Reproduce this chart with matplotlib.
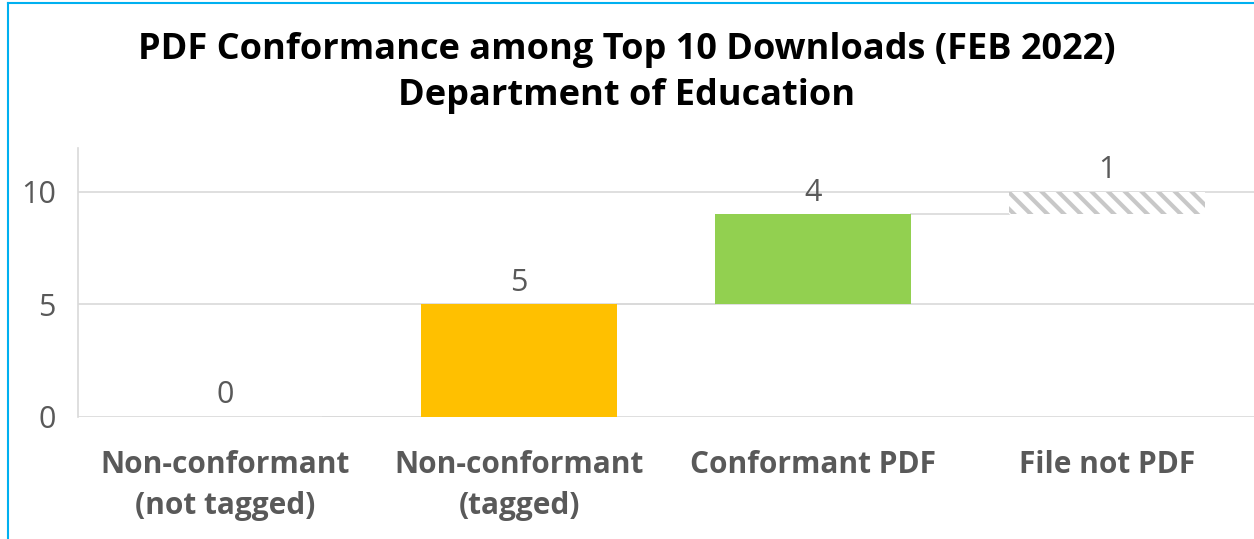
import matplotlib
matplotlib.use("Agg")
import matplotlib.pyplot as plt
from matplotlib.lines import Line2D

categories = ["Non-conformant\n(not tagged)", "Non-conformant\n(tagged)", "Conformant PDF", "File not PDF"]
values = [0, 5, 4, 1]
colors = ["#4472C4", "#FFC000", "#92D050", "white"]

# waterfall bases
bases = []
run = 0
for v in values:
    bases.append(run)
    run += v

plt.rcParams['font.family'] = ['Open Sans', 'DejaVu Sans']
plt.rcParams['hatch.linewidth'] = 3.0

fig = plt.figure(figsize=(12.54, 5.39), dpi=100)
ax = fig.add_axes([78 / 1254, 1 - 417 / 539, 1 - 78 / 1254, (417 - 148) / 539])

x = list(range(len(categories)))
for i in x:
    if i == 3:
        ax.bar(i, values[i], bottom=bases[i], width=0.665, color="white",
               edgecolor="#C8C8C8", linewidth=0, hatch="\\\\", zorder=3)
    else:
        ax.bar(i, values[i], bottom=bases[i], width=0.665, color=colors[i], zorder=3)
    ax.text(i, bases[i] + values[i] + 0.3, str(values[i]), ha="center", va="bottom",
            fontsize=22, color="#595959")

# connector lines
for i in range(len(values) - 1):
    top = bases[i] + values[i]
    ax.plot([i + 0.3325, i + 1 - 0.3325], [top, top], color="#D9D9D9", lw=1.2, zorder=2)

ax.set_xlim(-0.5, 3.5)
ax.set_ylim(0, 11.95)
ax.set_yticks([0, 5, 10])
ax.yaxis.grid(True, color="#D9D9D9", lw=1.2, zorder=0)
ax.set_xticks(x)
ax.set_xticklabels(categories, fontsize=21.5, fontweight="bold", color="#595959", linespacing=1.45)
ax.tick_params(axis="y", labelsize=22, labelcolor="#595959", length=0, pad=16)
ax.tick_params(axis="x", length=0, pad=24)
for s in ["top", "right", "bottom"]:
    ax.spines[s].set_visible(False)
ax.spines["left"].set_color("#D9D9D9")
ax.spines["left"].set_linewidth(1.2)

fig.text(0.5, 1 - 50 / 539, "PDF Conformance among Top 10 Downloads (FEB 2022)",
         ha="center", va="center", fontsize=26, fontweight="bold", color="black")
fig.text(0.5, 1 - 96 / 539, "Department of Education",
         ha="center", va="center", fontsize=26, fontweight="bold", color="black")

# frame border
fig.add_artist(Line2D([8 / 1254, 8 / 1254], [0, 1 - 3 / 539], color="#00B0F0", lw=1.5))
fig.add_artist(Line2D([8 / 1254, 1], [1 - 3 / 539, 1 - 3 / 539], color="#00B0F0", lw=1.5))

fig.savefig("out.png", dpi=100)
